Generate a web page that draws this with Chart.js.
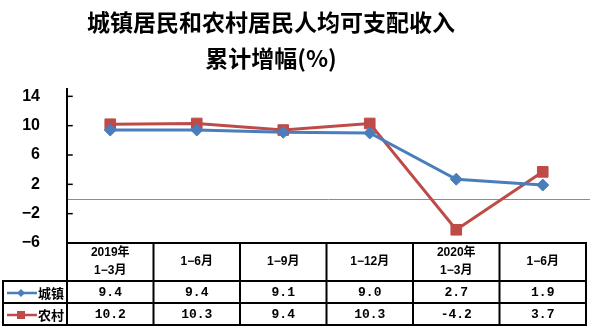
<!DOCTYPE html>
<html>
<head>
<meta charset="utf-8">
<script src="https://cdn.jsdelivr.net/npm/chart.js@4"></script>
<style>
  html, body { margin: 0; padding: 0; background: #fff; }
  #wrap { position: relative; width: 596px; height: 333px; }
  #c { position: absolute; left: 0; top: 0; }
  #title {
    position: absolute; left: 0; top: 3px; width: 542px;
    text-align: center; color: #000;
    font: bold 23px "Noto Sans CJK SC", sans-serif; line-height: 36px;
  }
</style>
</head>
<body>
<div id="wrap">
  <canvas id="c" width="596" height="333"></canvas>
  <div id="title">城镇居民和农村居民人均可支配收入<br>累计增幅(%)</div>
</div>
<script>
// Periods (header row of the data table)
const categories = [['2019年', '1−3月'], '1−6月', '1−9月', '1−12月', ['2020年', '1−3月'], '1−6月'];
// Series names
const seriesNames = ['城镇', '农村'];
// Cumulative growth, %
const urbanValues = [9.4, 9.4, 9.1, 9.0, 2.7, 1.9];
const ruralValues = [10.2, 10.3, 9.4, 10.3, -4.2, 3.7];
// Value axis ticks
const yTickValues = [-6, -2, 2, 6, 10, 14];

const BLUE = '#4A7EBB';
const RED = '#BE4B48';

function fmtNum(v) {
  const s = Math.abs(v).toFixed(1);
  return v < 0 ? '-' + s : s;
}

// Axis lines, zero line, inward tick marks and the data table under the plot
const tablePlugin = {
  id: 'dataTable',
  beforeDatasetsDraw(chart) {
    const ctx = chart.ctx;
    const a = chart.chartArea;
    const y = chart.scales.y;
    ctx.save();
    // zero reference line
    const y0 = Math.round(y.getPixelForValue(0)) + 0.5;
    ctx.strokeStyle = '#8c8c8c';
    ctx.lineWidth = 1;
    ctx.beginPath();
    ctx.moveTo(a.left, y0);
    ctx.lineTo(a.right + 4, y0);
    ctx.stroke();
    ctx.restore();
  },
  afterDraw(chart) {
    const ctx = chart.ctx;
    const a = chart.chartArea;
    const xs = chart.scales.x;
    const ys = chart.scales.y;
    const n = categories.length;
    const colW = (a.right - a.left) / n;
    const headTop = a.bottom;
    const headBottom = headTop + 38;
    const row1Bottom = headBottom + 22;
    const row2Bottom = row1Bottom + 22;
    const legLeft = 3;

    ctx.save();
    ctx.strokeStyle = '#000';
    ctx.lineWidth = 2;
    ctx.lineCap = 'square';

    // value axis line
    ctx.beginPath();
    ctx.moveTo(a.left, a.top);
    ctx.lineTo(a.left, row2Bottom);
    ctx.stroke();

    // inward tick marks
    ctx.lineWidth = 1.5;
    yTickValues.forEach(v => {
      const py = ys.getPixelForValue(v);
      ctx.beginPath();
      ctx.moveTo(a.left, py);
      ctx.lineTo(a.left + 5, py);
      ctx.stroke();
    });

    // table grid
    ctx.lineWidth = 2;
    ctx.beginPath();
    ctx.moveTo(a.left, headTop); ctx.lineTo(a.right, headTop);
    [headBottom, row1Bottom, row2Bottom].forEach(yy => {
      ctx.moveTo(legLeft, yy); ctx.lineTo(a.right, yy);
    });
    for (let i = 0; i <= n; i++) {
      const xx = a.left + i * colW;
      ctx.moveTo(xx, headTop); ctx.lineTo(xx, row2Bottom);
    }
    ctx.moveTo(legLeft, headBottom); ctx.lineTo(legLeft, row2Bottom);
    ctx.stroke();

    // header labels
    ctx.fillStyle = '#000';
    ctx.textAlign = 'center';
    ctx.textBaseline = 'middle';
    ctx.font = 'bold 12px "Liberation Sans", "Noto Sans CJK SC", sans-serif';
    const headMid = (headTop + headBottom) / 2;
    categories.forEach((lab, i) => {
      const cx = xs.getPixelForValue(i);
      if (Array.isArray(lab)) {
        ctx.fillText(lab[0], cx, headMid - 9);
        ctx.fillText(lab[1], cx, headMid + 9);
      } else {
        ctx.fillText(lab, cx, headMid);
      }
    });

    // values
    const r1 = (headBottom + row1Bottom) / 2 + 1;
    const r2 = (row1Bottom + row2Bottom) / 2 + 1;
    ctx.font = 'bold 13px "Liberation Mono", monospace';
    urbanValues.forEach((v, i) => ctx.fillText(fmtNum(v), xs.getPixelForValue(i), r1));
    ruralValues.forEach((v, i) => ctx.fillText(fmtNum(v), xs.getPixelForValue(i), r2));

    // legend keys in the first column
    const keyX0 = 7, keyX1 = 37, keyC = 21;
    ctx.lineWidth = 2.5;
    ctx.lineCap = 'butt';
    ctx.strokeStyle = BLUE;
    ctx.beginPath(); ctx.moveTo(keyX0, r1); ctx.lineTo(keyX1, r1); ctx.stroke();
    ctx.fillStyle = BLUE;
    ctx.beginPath();
    ctx.moveTo(keyC, r1 - 4); ctx.lineTo(keyC + 4, r1); ctx.lineTo(keyC, r1 + 4); ctx.lineTo(keyC - 4, r1);
    ctx.closePath(); ctx.fill();

    ctx.strokeStyle = RED;
    ctx.beginPath(); ctx.moveTo(keyX0, r2); ctx.lineTo(keyX1, r2); ctx.stroke();
    ctx.fillStyle = RED;
    ctx.fillRect(keyC - 4, r2 - 4, 8, 8);

    ctx.fillStyle = '#000';
    ctx.textAlign = 'left';
    ctx.font = 'bold 13px "Noto Sans CJK SC", sans-serif';
    ctx.fillText(seriesNames[0], 38, r1);
    ctx.fillText(seriesNames[1], 38, r2);
    ctx.restore();
  }
};

new Chart(document.getElementById('c'), {
  type: 'line',
  data: {
    labels: categories,
    datasets: [
      {
        label: seriesNames[0],
        data: urbanValues,
        borderColor: BLUE,
        backgroundColor: BLUE,
        borderWidth: 3,
        pointStyle: 'rectRot',
        pointRadius: 6,
        pointBorderWidth: 1,
        tension: 0
      },
      {
        label: seriesNames[1],
        data: ruralValues,
        borderColor: RED,
        backgroundColor: RED,
        borderWidth: 3,
        pointStyle: 'rect',
        pointRadius: 7.5,
        pointBorderWidth: 1,
        tension: 0
      }
    ]
  },
  options: {
    responsive: false,
    animation: false,
    layout: { padding: { top: 89, right: 10, left: 0, bottom: 0 } },
    plugins: {
      legend: { display: false },
      title: { display: false },
      tooltip: { enabled: false }
    },
    scales: {
      x: {
        type: 'category',
        offset: true,
        grid: { display: false },
        border: { display: false },
        ticks: { display: false },
        afterFit(scale) { scale.height = 90; }
      },
      y: {
        min: -6,
        max: 15,
        grid: { display: false, drawTicks: false },
        border: { display: false },
        afterBuildTicks(scale) { scale.ticks = yTickValues.map(v => ({ value: v })); },
        afterFit(scale) { scale.width = 67; },
        ticks: {
          padding: 27,
          color: '#000',
          font: { family: '"Liberation Sans", Arial, sans-serif', size: 16, weight: 'bold' },
          callback: v => (v < 0 ? '−' + Math.abs(v) : String(v))
        }
      }
    }
  },
  plugins: [tablePlugin]
});
</script>
</body>
</html>
